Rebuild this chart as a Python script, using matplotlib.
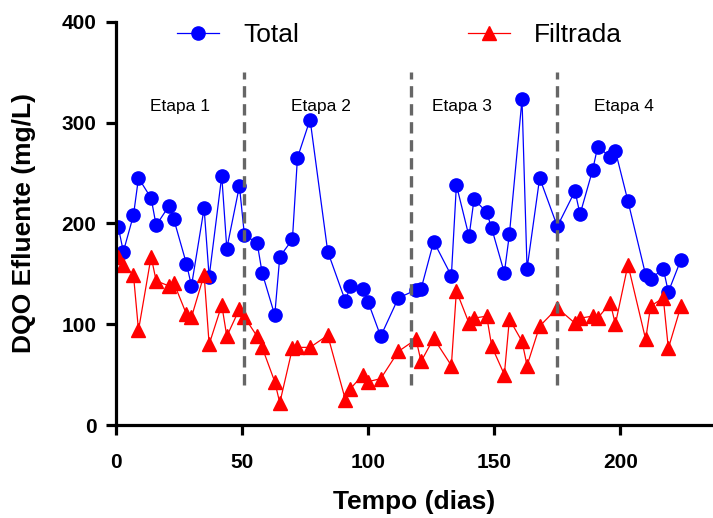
import matplotlib
matplotlib.use("Agg")
import matplotlib.pyplot as plt

plt.rcParams['font.family'] = ['Liberation Sans', 'DejaVu Sans']

# sampling days (same for both series)
dias = [1, 3, 7, 9, 14, 16, 21, 23, 28, 30, 35, 37, 42, 44, 49, 51, 56, 58,
        63, 65, 70, 72, 77, 84, 91, 93, 98, 100, 105, 112, 119, 121, 126, 133,
        135, 140, 142, 147, 149, 154, 156, 161, 163, 168, 175, 182, 184, 189,
        191, 196, 198, 203, 210, 212, 217, 219, 224]

# DQO total (mg/L)
total = [196, 172, 208, 245, 225, 198, 217, 204, 160, 138, 215, 147, 247, 175,
         237, 188, 181, 151, 109, 167, 184, 265, 303, 172, 123, 138, 135, 122,
         88, 126, 134, 135, 182, 148, 238, 187, 224, 211, 195, 151, 189, 323,
         155, 245, 197, 232, 209, 253, 276, 266, 272, 222, 149, 145, 155, 132,
         164]

# DQO filtrada (mg/L)
filtrada = [167, 159, 149, 94, 167, 143, 138, 141, 110, 107, 149, 80, 119, 88,
            115, 107, 88, 77, 43, 22, 76, 77, 77, 89, 25, 36, 50, 43, 46, 73,
            85, 63, 86, 59, 133, 101, 106, 108, 78, 50, 105, 83, 59, 98, 116,
            101, 106, 108, 106, 121, 100, 159, 85, 118, 126, 76, 118]

# stage boundaries and labels
limites = [51, 117, 175]
etapas = ['Etapa 1', 'Etapa 2', 'Etapa 3', 'Etapa 4']
etapa_x = [25.5, 81.5, 137, 201.5]

fig = plt.figure(figsize=(7.13, 5.18), dpi=100)
ax = fig.add_axes([0.1624, 0.1795, 0.8376, 0.7786])

ax.plot(dias, total, '-o', color='#0000ff', lw=0.9, ms=9.5, label='Total')
ax.plot(dias, filtrada, '-^', color='#ff0000', lw=0.9, ms=9.5, label='Filtrada')

for xl in limites:
    ax.vlines(xl, 40, 350, colors='#666666', linewidth=2.4,
              linestyles=(0, (3.4, 2.0)))

for txt, xe in zip(etapas, etapa_x):
    ax.text(xe, 315.5, txt, ha='center', va='center', fontsize=12.5)

ax.set_xlim(0, 236.7)
ax.set_ylim(0, 400)
ax.set_xticks([0, 50, 100, 150, 200])
ax.set_yticks([0, 100, 200, 300, 400])

for s in ['top', 'right']:
    ax.spines[s].set_visible(False)
for s in ['left', 'bottom']:
    ax.spines[s].set_linewidth(2.3)

ax.tick_params(axis='both', direction='out', length=7, width=2.3,
               labelsize=15)
ax.tick_params(axis='x', pad=13)
ax.tick_params(axis='y', pad=7)
for lab in ax.get_xticklabels() + ax.get_yticklabels():
    lab.set_fontweight('bold')

ax.set_xlabel('Tempo (dias)', fontsize=19, fontweight='bold', labelpad=13)
ax.set_ylabel('DQO Efluente (mg/L)', fontsize=19, fontweight='bold',
              labelpad=18)

ax.legend(loc='center left', bbox_to_anchor=(177 / 713, 1 - 35 / 518),
          bbox_transform=fig.transFigure, ncol=2, frameon=False,
          fontsize=19, handlelength=1.6, handletextpad=0.9,
          columnspacing=6.4, borderpad=0, borderaxespad=0)

fig.savefig('out.png', dpi=100)
